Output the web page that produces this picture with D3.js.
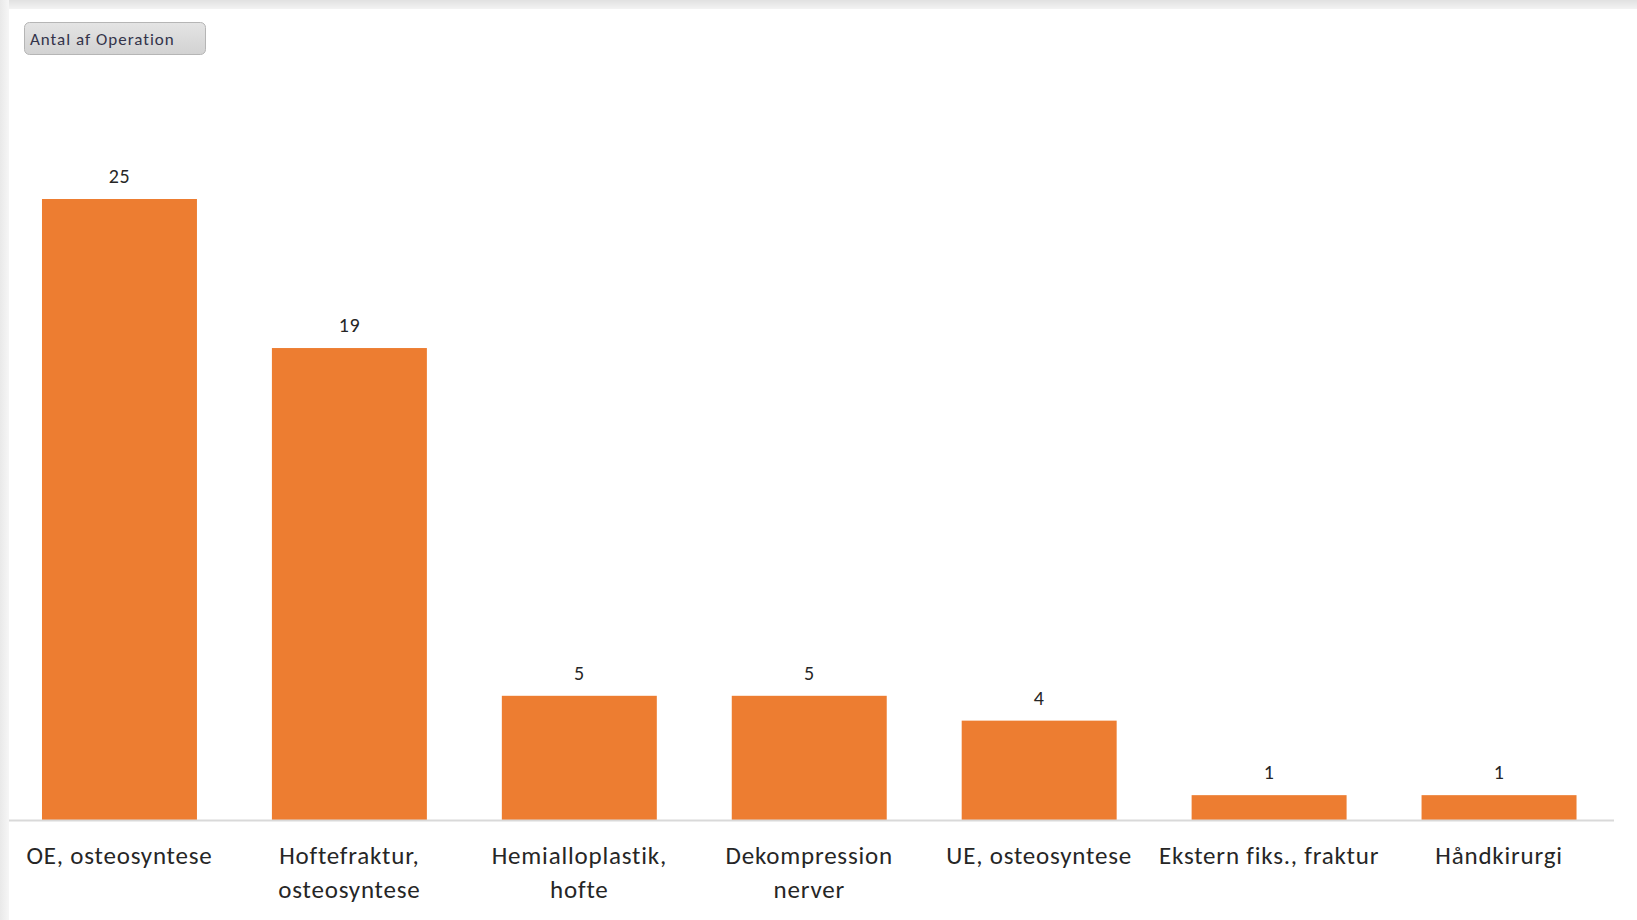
<!DOCTYPE html>
<html>
<head>
<meta charset="utf-8">
<script src="https://cdn.jsdelivr.net/npm/d3@7"></script>
<style>
  html, body { margin: 0; padding: 0; background: #ffffff; overflow: hidden; }
  svg { display: block; }
  text { font-family: Carlito, Lato, "Open Sans", sans-serif; }
</style>
</head>
<body>
<svg id="chart" width="1637" height="920"></svg>
<script>
// Operations by type
const categories = [
  "OE, osteosyntese",
  "Hoftefraktur, osteosyntese",
  "Hemialloplastik, hofte",
  "Dekompression nerver",
  "UE, osteosyntese",
  "Ekstern fiks., fraktur",
  "Håndkirurgi"
];
const counts = [25, 19, 5, 5, 4, 1, 1];
const fieldButtonLabel = "Antal af Operation";

const W = 1637, H = 920;
const svg = d3.select("#chart");
const defs = svg.append("defs");

// panel frame shading along the top and left edges
const gTop = defs.append("linearGradient").attr("id", "edgeTop")
  .attr("x1", 0).attr("y1", 0).attr("x2", 0).attr("y2", 1);
gTop.append("stop").attr("offset", "0%").attr("stop-color", "#e1e1e1");
gTop.append("stop").attr("offset", "100%").attr("stop-color", "#f3f3f3");
const gLeft = defs.append("linearGradient").attr("id", "edgeLeft")
  .attr("x1", 0).attr("y1", 0).attr("x2", 1).attr("y2", 0);
gLeft.append("stop").attr("offset", "0%").attr("stop-color", "#e9e9e9");
gLeft.append("stop").attr("offset", "100%").attr("stop-color", "#f6f6f6");
const gBtn = defs.append("linearGradient").attr("id", "btnFill")
  .attr("x1", 0).attr("y1", 0).attr("x2", 0).attr("y2", 1);
gBtn.append("stop").attr("offset", "0%").attr("stop-color", "#e4e4e4");
gBtn.append("stop").attr("offset", "100%").attr("stop-color", "#d2d2d2");

svg.append("rect").attr("x", 0).attr("y", 0).attr("width", W).attr("height", 9)
  .attr("fill", "url(#edgeTop)");
svg.append("rect").attr("x", 0).attr("y", 0).attr("width", 9).attr("height", H)
  .attr("fill", "url(#edgeLeft)");

// field button
const btn = svg.append("g");
btn.append("rect").attr("x", 24.5).attr("y", 22.5).attr("width", 181).attr("height", 32)
  .attr("rx", 5).attr("fill", "url(#btnFill)").attr("stroke", "#b5b5b5");
btn.append("text").attr("x", 30).attr("y", 45)
  .attr("font-size", 17).attr("letter-spacing", 1.0)
  .attr("fill", "#33334a").text(fieldButtonLabel);

// scales
const x = d3.scaleBand().domain(categories).range([4.5, 1614])
  .paddingInner(0.326).paddingOuter(0.163);
const y = d3.scaleLinear().domain([0, 25]).range([820, 199]);

// bars
svg.append("g").selectAll("rect").data(categories).join("rect")
  .attr("x", d => x(d))
  .attr("y", (d, i) => y(counts[i]))
  .attr("width", x.bandwidth())
  .attr("height", (d, i) => y(0) - y(counts[i]))
  .attr("fill", "#ed7d31");

// value labels
svg.append("g").selectAll("text").data(categories).join("text")
  .attr("x", d => x(d) + x.bandwidth() / 2)
  .attr("y", (d, i) => y(counts[i]) - 16)
  .attr("text-anchor", "middle")
  .attr("font-size", 20)
  .attr("letter-spacing", 0.5)
  .attr("fill", "#262626")
  .text((d, i) => counts[i]);

// category axis
const axis = svg.append("g").attr("transform", "translate(0,820)")
  .call(d3.axisBottom(x).tickSize(0).tickPadding(0));
axis.select(".domain").attr("d", "M9,0.5H1614").attr("stroke", "#d9d9d9").attr("stroke-width", 2);

axis.selectAll(".tick text")
  .attr("font-size", 25)
  .attr("letter-spacing", 0.8)
  .attr("fill", "#262626")
  .attr("font-family", null)
  .attr("y", 44)
  .attr("dy", 0)
  .each(function (d) { wrap(d3.select(this), x.step() - 2); });

function wrap(textSel, width) {
  const words = textSel.text().split(/\s+/);
  textSel.text(null);
  let line = [];
  let tspan = textSel.append("tspan").attr("x", 0).attr("dy", 0);
  for (const w of words) {
    line.push(w);
    tspan.text(line.join(" "));
    if (tspan.node().getComputedTextLength() > width && line.length > 1) {
      line.pop();
      tspan.text(line.join(" "));
      line = [w];
      tspan = textSel.append("tspan").attr("x", 0).attr("dy", 34).text(w);
    }
  }
}
</script>
</body>
</html>
